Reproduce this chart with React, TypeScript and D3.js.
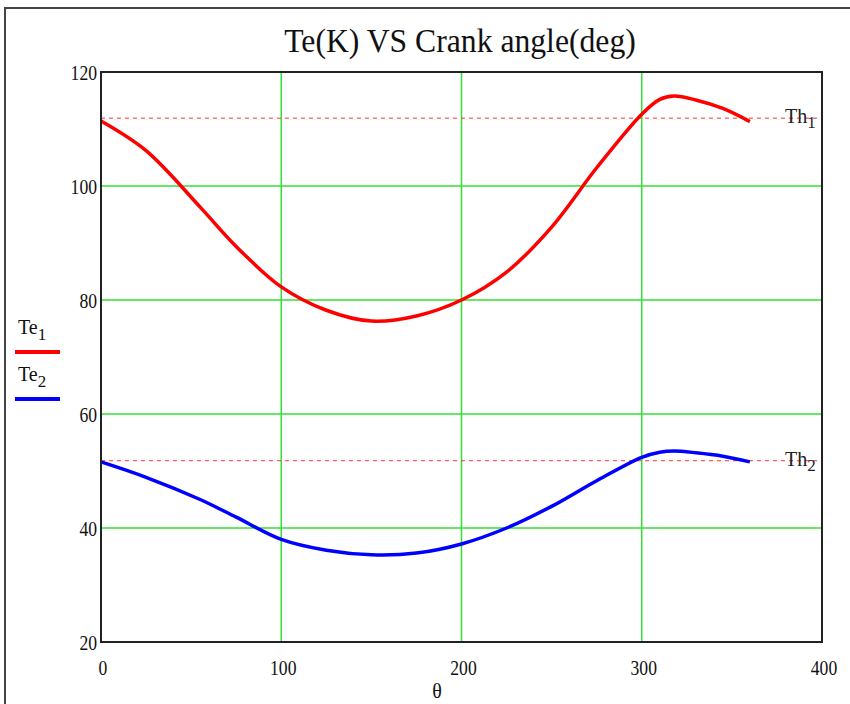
import React from "react";
import * as d3 from "d3";

// crank angle (deg) and temperatures
const theta = [0, 25, 55, 75, 100, 125, 150, 175, 200, 225, 250, 275, 300, 310, 318, 330, 345, 360];
const te1 = [111.4, 106.2, 96.3, 89.4, 82.3, 78.2, 76.3, 77.2, 80, 84.9, 92.8, 103.2, 112.6, 115.2, 115.8, 115.1, 113.6, 111.3];
const te2 = [51.6, 48.9, 45.0, 41.9, 38.0, 36.1, 35.3, 35.6, 37.2, 40, 43.8, 48.3, 52.4, 53.3, 53.5, 53.2, 52.6, 51.6];
const th1 = 111.9;
const th2 = 51.8;
const xTicks = [0, 100, 200, 300, 400];
const yTicks = [20, 40, 60, 80, 100, 120];

const W = 850;
const H = 704;
const BOX = { left: 101, right: 822, top: 72, bottom: 642 };
const FONT = "'Liberation Serif', 'Times New Roman', serif";

const App = () => {
  const x = d3.scaleLinear().domain([0, 400]).range([BOX.left, BOX.right]);
  const y = d3.scaleLinear().domain([20, 120]).range([BOX.bottom, BOX.top]);

  const line = d3
    .line<number>()
    .x((_, i) => x(theta[i]))
    .y((d) => y(d))
    .curve(d3.curveCatmullRom);

  return (
    <svg width={W} height={H} style={{ position: "fixed", left: 0, top: 0, background: "#fff" }}>
      {/* outer frame */}
      <rect x={5} y={8} width={900} height={800} fill="none" stroke="#444" strokeWidth={2} />

      <text x={460} y={52} textAnchor="middle" fontFamily={FONT} fontSize={33} fill="#111"
        transform="translate(460,0) scale(0.96,1) translate(-460,0)">
        Te(K) VS Crank angle(deg)
      </text>

      {/* grid */}
      {xTicks.slice(1, -1).map((t) => (
        <line key={"gx" + t} x1={x(t)} x2={x(t)} y1={BOX.top} y2={BOX.bottom} stroke="#33e033" strokeWidth={1.5} />
      ))}
      {yTicks.slice(1, -1).map((t) => (
        <line key={"gy" + t} x1={BOX.left} x2={BOX.right} y1={y(t)} y2={y(t)} stroke="#33e033" strokeWidth={1.5} />
      ))}

      {/* threshold lines */}
      {[th1, th2].map((v, i) => (
        <line key={"th" + i} x1={BOX.left} x2={BOX.right} y1={y(v)} y2={y(v)}
          stroke="#ff3030" strokeWidth={1} strokeDasharray="4,4" />
      ))}

      <path d={line(te1) || ""} fill="none" stroke="#ff0000" strokeWidth={3.5} />
      <path d={line(te2) || ""} fill="none" stroke="#0000ff" strokeWidth={3.5} />

      {/* plot box */}
      <rect x={BOX.left} y={BOX.top} width={BOX.right - BOX.left} height={BOX.bottom - BOX.top}
        fill="none" stroke="#222" strokeWidth={2} />

      {/* tick labels */}
      {yTicks.map((t) => (
        <text key={"yl" + t} x={BOX.left - 4} y={y(t) + 8} textAnchor="end" fontFamily={FONT} fontSize={20} fill="#111"
          transform={`translate(${BOX.left - 4},0) scale(0.88,1) translate(${-(BOX.left - 4)},0)`}>
          {t}
        </text>
      ))}
      {xTicks.map((t) => (
        <text key={"xl" + t} x={x(t) + 2} y={BOX.bottom + 33} textAnchor="middle" fontFamily={FONT} fontSize={20} fill="#111"
          transform={`translate(${x(t) + 2},0) scale(0.88,1) translate(${-(x(t) + 2)},0)`}>
          {t}
        </text>
      ))}
      <text x={437} y={698} textAnchor="middle" fontFamily={FONT} fontSize={20} fill="#111">θ</text>

      {/* threshold labels */}
      {[["1", th1], ["2", th2]].map(([s, v]) => (
        <text key={"tl" + s} x={785} y={y(v as number) + 5} fontFamily={FONT} fontSize={20} fill="#222">
          Th<tspan fontSize={17} dy={5}>{s}</tspan>
        </text>
      ))}

      {/* legend */}
      <text x={18} y={334} fontFamily={FONT} fontSize={20} fill="#111">
        Te<tspan fontSize={17} dy={6}>1</tspan>
      </text>
      <line x1={15} x2={60} y1={352} y2={352} stroke="#ff0000" strokeWidth={4} />
      <text x={18} y={381} fontFamily={FONT} fontSize={20} fill="#111">
        Te<tspan fontSize={17} dy={6}>2</tspan>
      </text>
      <line x1={15} x2={60} y1={399} y2={399} stroke="#0000ff" strokeWidth={4} />
    </svg>
  );
};

export default App;
